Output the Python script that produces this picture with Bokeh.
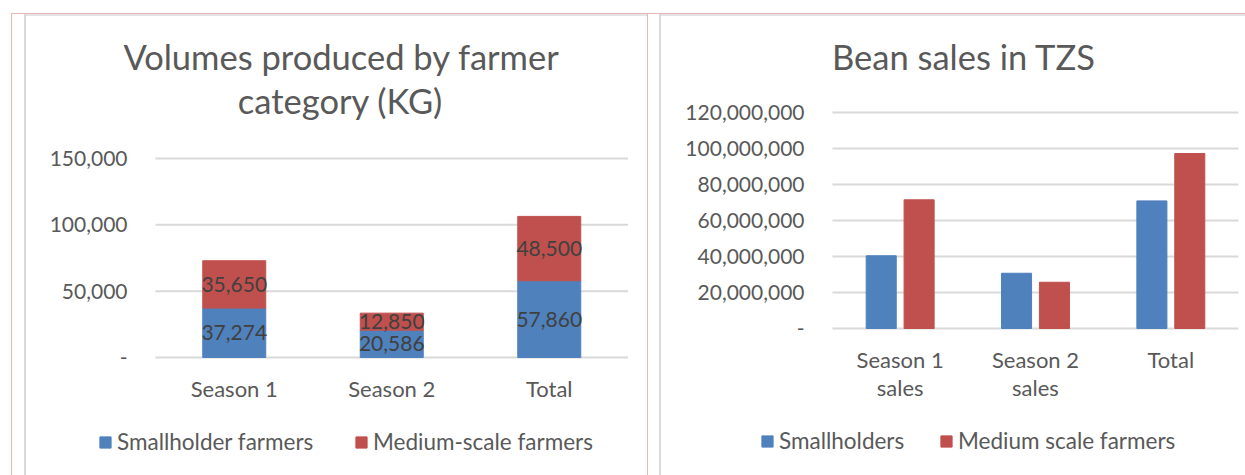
from bokeh.plotting import figure
from bokeh.models import (Range1d, FixedTicker, NumeralTickFormatter,
                          Legend, LegendItem, ColumnDataSource, Label)
from bokeh.layouts import row
from bokeh.embed import file_html
from bokeh.resources import INLINE
from bokeh.core.properties import value

# ---------------- data ----------------
vol_categories = ["Season 1", "Season 2", "Total"]
vol_smallholder = [37274, 20586, 57860]
vol_medium = [35650, 12850, 48500]
vol_ticks = [0, 50000, 100000, 150000]

sales_categories = ["Season 1\nsales", "Season 2\nsales", "Total"]
sales_smallholders = [40400000, 30700000, 70900000]
sales_medium = [71500000, 25700000, 97200000]
sales_ticks = [0, 20000000, 40000000, 60000000, 80000000, 100000000, 120000000]

# ---------------- style / layout (pixels) ----------------
FONT = "Lato"
BLUE = "#4F81BD"
RED = "#C0504D"
TXT = "#595959"
LBL = "#404040"
GRID = "#D9D9D9"
PINK = "#E6B8B7"
H = 475
W1, W2 = 647, 598


def make_fig(width, x_left_px, x_right_px, n_cats, y0_px, ytop_px, ytop_val):
    """Frame covers the whole canvas; axes are pinned with fixed_location."""
    ux = (x_right_px - x_left_px) / n_cats
    ky = ytop_val / (y0_px - ytop_px)
    p = figure(width=width, height=H,
               x_range=Range1d(-x_left_px / ux, (width - x_left_px) / ux),
               y_range=Range1d(-(H - y0_px) * ky, y0_px * ky),
               output_backend="svg", toolbar_location=None,
               min_border_left=0, min_border_right=0, min_border_top=0, min_border_bottom=0)
    p.outline_line_color = None
    p.border_fill_alpha = 0
    p.background_fill_alpha = 0
    p.xgrid.visible = False
    p.ygrid.visible = False
    for ax in (p.xaxis[0], p.yaxis[0]):
        ax.fixed_location = 0
        ax.axis_line_color = None
        ax.major_tick_line_color = None
        ax.minor_tick_line_color = None
        ax.major_tick_out = 0
        ax.major_tick_in = 0
        ax.major_label_text_font = FONT
        ax.major_label_text_color = TXT
    return p


def style_axes(p, categories, ticks):
    cat_x = [i + 0.5 for i in range(len(categories))]
    p.xaxis[0].ticker = FixedTicker(ticks=cat_x)
    p.xaxis[0].major_label_overrides = {x: c for x, c in zip(cat_x, categories)}
    p.xaxis[0].major_label_text_font_size = "22px"
    p.xaxis[0].major_label_standoff = 17
    p.yaxis[0].ticker = FixedTicker(ticks=ticks)
    p.yaxis[0].formatter = NumeralTickFormatter(format="0,0")
    p.yaxis[0].major_label_overrides = {0: "-"}
    p.yaxis[0].major_label_text_font_size = "21px"
    p.yaxis[0].major_label_standoff = 28
    # horizontal gridlines spanning the category area
    p.segment(x0=[0] * len(ticks), x1=[len(categories)] * len(ticks), y0=ticks, y1=ticks,
              line_color=GRID, line_width=2, level="underlay")
    return cat_x


def add_text(p, text, x, y, size="34.5px"):
    p.add_layout(Label(x=x, y=H - y, x_units="screen", y_units="screen", text=text,
                       text_align="center", text_baseline="middle", text_font=FONT,
                       text_font_size=size, text_color=TXT))


def add_legend(p, items, x, y, label_width, spacing):
    p.add_layout(Legend(items=items, location=(x, y), orientation="horizontal",
                        border_line_color=None, background_fill_alpha=0,
                        padding=0, margin=0, spacing=spacing, label_width=label_width,
                        glyph_width=14, glyph_height=14, label_standoff=5,
                        label_text_font=FONT, label_text_font_size="22.5px",
                        label_text_color=TXT))


def frame_lines(p, lines):
    imgs, pos, size = [], [], []
    for color, x, y, w, h in lines:
        imgs.append(f"linear-gradient({color},{color})")
        pos.append(f"{x}px {y}px")
        size.append(f"{w} {h}")
    p.styles = {"background-image": ", ".join(imgs),
                "background-position": ", ".join(pos),
                "background-size": ", ".join(size),
                "background-repeat": "no-repeat"}


# ---------------- chart 1: stacked volumes ----------------
p1 = make_fig(W1, 155, 627.5, len(vol_categories), 357, 158, vol_ticks[-1])
cx1 = style_axes(p1, vol_categories, vol_ticks)
src1 = ColumnDataSource(dict(
    x=cx1,
    small=vol_smallholder,
    medium=vol_medium,
    small_mid=[v / 2 for v in vol_smallholder],
    medium_mid=[s + m / 2 for s, m in zip(vol_smallholder, vol_medium)],
    small_txt=[f"{v:,}" for v in vol_smallholder],
    medium_txt=[f"{v:,}" for v in vol_medium],
))
rs = p1.vbar_stack(["small", "medium"], x="x", width=0.4, color=[BLUE, RED], source=src1)
for ycol, tcol in (("small_mid", "small_txt"), ("medium_mid", "medium_txt")):
    p1.text(x="x", y=ycol, text=tcol, source=src1, text_align="center",
            text_baseline="middle", text_font=value(FONT), text_font_size="21px",
            text_color=LBL)
add_text(p1, "Volumes produced by farmer", 341, 56)
add_text(p1, "category (KG)", 340, 100)
add_legend(p1, [LegendItem(label="Smallholder farmers", renderers=[rs[0]]),
                LegendItem(label="Medium-scale farmers", renderers=[rs[1]])],
           98, 20, 205, 32)
frame_lines(p1, [(PINK, 11, 13, "1px", "100%"), (PINK, 11, 13, "100%", "1px"),
                 (GRID, 24, 14, "2px", "100%"), ("#E4E4E4", 24, 14, "100%", "2px")])

# ---------------- chart 2: grouped sales ----------------
p2 = make_fig(W2, 185, 591, len(sales_categories), 328, 112, sales_ticks[-1])
cx2 = style_axes(p2, sales_categories, sales_ticks)
p2.xaxis[0].major_label_text_line_height = 1.04
src2 = ColumnDataSource(dict(
    xs=[x - 0.14 for x in cx2],
    xm=[x + 0.14 for x in cx2],
    small=sales_smallholders,
    medium=sales_medium,
))
rb = p2.vbar(x="xs", top="small", width=0.222, color=BLUE, source=src2)
rr = p2.vbar(x="xm", top="medium", width=0.222, color=RED, source=src2)
add_text(p2, "Bean sales in TZS", 316.5, 56)
add_legend(p2, [LegendItem(label="Smallholders", renderers=[rb]),
                LegendItem(label="Medium scale farmers", renderers=[rr])],
           113, 21, 135, 25)
frame_lines(p2, [(PINK, 0, 13, "1px", "100%"), (PINK, 0, 13, "100%", "1px"),
                 (GRID, 12, 14, "2px", "100%"), ("#E4E4E4", 12, 14, "100%", "2px")])

layout = row(p1, p2)
open("out.html", "w").write(file_html(layout, INLINE))
